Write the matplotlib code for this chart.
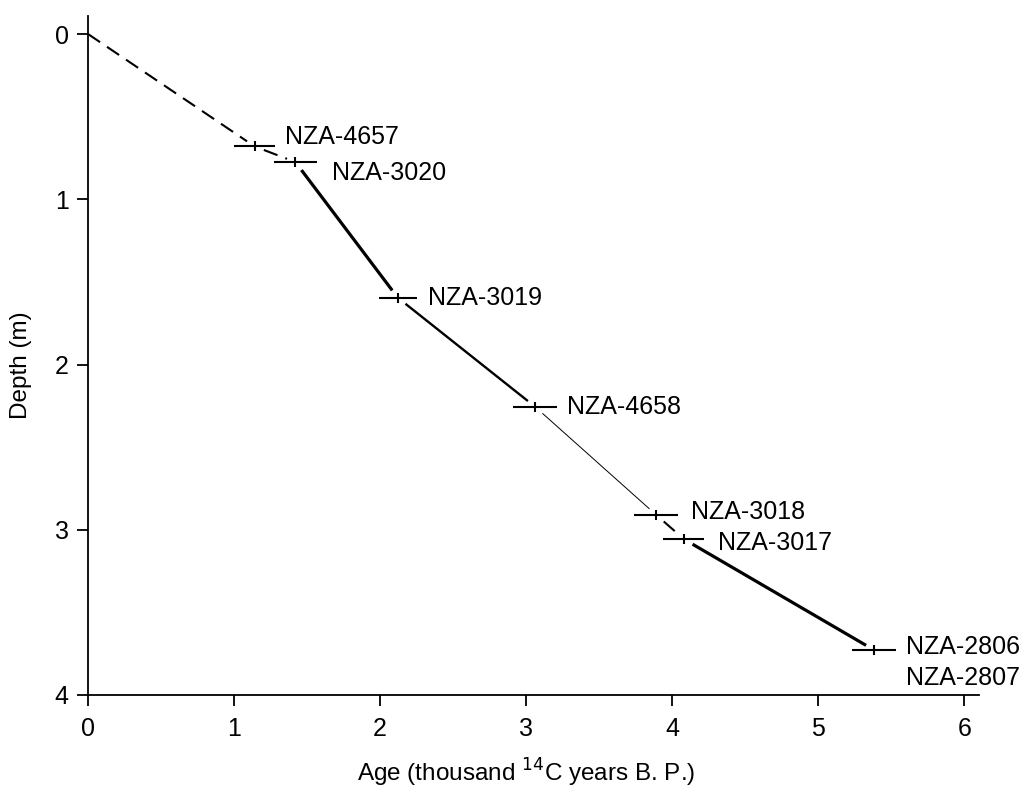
import matplotlib
matplotlib.use("Agg")
import matplotlib.pyplot as plt
import numpy as np

plt.rcParams['font.family'] = ['Liberation Sans', 'DejaVu Sans']

# Data
samples = ["NZA-4657", "NZA-3020", "NZA-3019", "NZA-4658", "NZA-3018", "NZA-3017", "NZA-2806"]
ages = [1.14, 1.42, 2.12, 3.06, 3.89, 4.08, 5.38]        # thousand 14C years BP
age_err = [0.14, 0.15, 0.13, 0.15, 0.15, 0.14, 0.15]
depths = [0.68, 0.775, 1.595, 2.255, 2.91, 3.057, 3.727]  # m
depth_err = [0.03, 0.03, 0.03, 0.03, 0.03, 0.03, 0.03]
extra_label = "NZA-2807"
x_ticks = [0, 1, 2, 3, 4, 5, 6]
y_ticks = [0, 1, 2, 3, 4]

# Layout / style (not data)
label_offsets_px = [(30, 9), (37, -11), (30, 0), (32, 0), (35, 3), (34, -4), (32, 3)]
extra_offset_px = (32, -28)
dash = (0, (7, 4))
seg_styles = [
    dict(ls=dash, lw=1.5),   # surface -> 4657
    dict(ls=dash, lw=1.5),   # 4657 -> 3020
    dict(ls='-', lw=2.3),    # 3020 -> 3019
    dict(ls='-', lw=1.7),    # 3019 -> 4658
    dict(ls='-', lw=0.7),    # 4658 -> 3018
    dict(ls=dash, lw=1.5),   # 3018 -> 3017
    dict(ls='-', lw=2.3),    # 3017 -> 2806
]

fig = plt.figure(figsize=(10.25, 7.89), dpi=100)
ax = fig.add_axes([88/1025, 1-695/789, (979-88)/1025, (695-16)/789])
ax.set_xlim(0, 6.1)
ax.set_ylim(4, -0.109)

fig.canvas.draw()

# age-depth model segments, with small gaps near the dated points
px = [0.0] + ages
py = [0.0] + depths
trans = ax.transData
inv = trans.inverted()
for i, st in enumerate(seg_styles):
    a = np.array(trans.transform((px[i], py[i])))
    b = np.array(trans.transform((px[i+1], py[i+1])))
    d = b - a
    L = np.hypot(*d)
    u = d / L
    gap_start = 0 if i == 0 else 10
    gap_end = 9
    a2 = a + u * gap_start
    b2 = b - u * gap_end
    da = inv.transform(a2)
    db = inv.transform(b2)
    ax.plot([da[0], db[0]], [da[1], db[1]], color='black', linestyle=st['ls'],
            linewidth=st['lw'], solid_capstyle='butt', dash_capstyle='butt')

# dated points as crosses (error bars)
ax.errorbar(ages, depths, xerr=age_err, yerr=depth_err, fmt='none',
            ecolor='black', elinewidth=1.5, capsize=0)

for s, x, y, off in zip(samples, ages, depths, label_offsets_px):
    ax.annotate(s, (x, y), xytext=off, textcoords='offset pixels',
                ha='left', va='center', fontsize=18)
ax.annotate(extra_label, (ages[-1], depths[-1]), xytext=extra_offset_px,
            textcoords='offset pixels', ha='left', va='center', fontsize=18)

ax.spines['top'].set_visible(False)
ax.spines['right'].set_visible(False)
ax.spines['left'].set_linewidth(1.3)
ax.spines['bottom'].set_linewidth(1.3)
ax.set_xticks(x_ticks)
ax.set_yticks(y_ticks)
ax.tick_params(direction='out', length=8, width=1.3, labelsize=18)
ax.tick_params(axis='x', pad=8)
ax.tick_params(axis='y', pad=6)

ax.set_xlabel("Age (thousand $^{14}$C years B. P.)", fontsize=17.5)
ax.set_ylabel("Depth (m)", fontsize=17.5)
ax.xaxis.set_label_coords(0.4916, -0.093)
ax.xaxis.label.set_verticalalignment('baseline')
ax.xaxis.label.set_y(-0.128)
ax.xaxis.set_label_coords(0.4916, -0.128)
ax.yaxis.set_label_coords(-0.063, 0.486)

fig.savefig("out.png", dpi=100)
